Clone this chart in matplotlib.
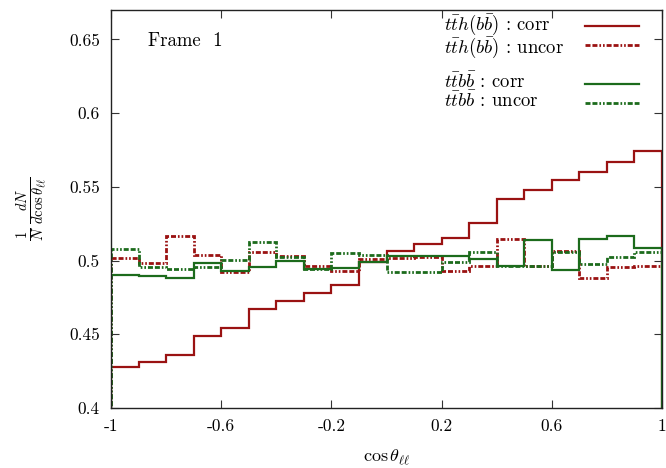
import numpy as np
import matplotlib
matplotlib.use("Agg")
import matplotlib.pyplot as plt

plt.rcParams['font.family'] = ['cmr10', 'DejaVu Serif']
plt.rcParams['mathtext.fontset'] = 'cm'
plt.rcParams['axes.formatter.use_mathtext'] = True

edges = np.linspace(-1, 1, 21)

tth_corr = [0.4278, 0.4311, 0.4357, 0.4488, 0.4544, 0.4673, 0.4729, 0.4779, 0.4835, 0.4991,
            0.5066, 0.5113, 0.5154, 0.5252, 0.5418, 0.5479, 0.5549, 0.5598, 0.5666, 0.5743]
tth_uncor = [0.5018, 0.4984, 0.5170, 0.5039, 0.4926, 0.5057, 0.5034, 0.4966, 0.4932, 0.5012,
             0.5016, 0.5027, 0.4932, 0.4966, 0.5147, 0.4960, 0.5068, 0.4883, 0.4955, 0.4966]
ttbb_corr = [0.4905, 0.4894, 0.4881, 0.4984, 0.4932, 0.4959, 0.5000, 0.4944, 0.4948, 0.4993,
             0.5034, 0.5034, 0.5034, 0.5011, 0.4966, 0.5142, 0.4937, 0.5147, 0.5170, 0.5086]
ttbb_uncor = [0.5079, 0.4955, 0.4944, 0.4955, 0.5002, 0.5124, 0.5023, 0.4944, 0.5050, 0.5041,
              0.4926, 0.4926, 0.4993, 0.5057, 0.4966, 0.4966, 0.5060, 0.4978, 0.5023, 0.5057]

labels = [r'$t\bar{t}h(b\bar{b})$ : corr', r'$t\bar{t}h(b\bar{b})$ : uncor',
          r'$t\bar{t}b\bar{b}$ : corr', r'$t\bar{t}b\bar{b}$ : uncor']

xticks = [-1, -0.6, -0.2, 0.2, 0.6, 1]
xticklabels = ['-1', '-0.6', '-0.2', '0.2', '0.6', '1']
yticks = [0.4, 0.45, 0.5, 0.55, 0.6, 0.65]
yticklabels = ['0.4', '0.45', '0.5', '0.55', '0.6', '0.65']

red = '#9a1212'
green = '#1c6b1c'
dd = (0, (1.8, 0.7, 1.8, 0.7, 0.6, 0.7, 0.6, 0.7))
solid_lw = 1.6
dash_lw = 2.0

fig = plt.figure(figsize=(6.66, 4.68), dpi=100)
ax = fig.add_axes([0.1667, 0.1282, 0.8273, 0.8504])

styles = [dict(color=red, lw=solid_lw, linestyle='-'),
          dict(color=red, lw=dash_lw, linestyle=dd),
          dict(color=green, lw=solid_lw, linestyle='-'),
          dict(color=green, lw=dash_lw, linestyle=dd)]
series = [tth_corr, tth_uncor, ttbb_corr, ttbb_uncor]

for vals, st in zip(series, styles):
    ax.stairs(vals, edges, baseline=0, **st)

ax.set_xlim(-1, 1)
ax.set_ylim(0.4, 0.67)
ax.set_xticks(xticks)
ax.set_xticklabels(xticklabels)
ax.set_yticks(yticks)
ax.set_yticklabels(yticklabels)
ax.tick_params(direction='in', length=6, width=0.8, top=True, right=True,
               labelsize=12.5, pad=8, color='#333333')
for s in ax.spines.values():
    s.set_linewidth(1.0)
    s.set_color('#222222')

ax.set_xlabel(r'$\cos\theta_{\ell\ell}$', fontsize=13, labelpad=9)
ax.set_ylabel(r'$\frac{1}{N}\,\frac{dN}{d\cos\theta_{\ell\ell}}$', fontsize=15, labelpad=14)

ax.text(0.068, 0.922, 'Frame  1', transform=ax.transAxes, fontsize=13.5, va='center', ha='left')

# legend: two text blocks (left-aligned) and sample lines to the right
text_x = 0.6045
block_y = [0.891, 0.759]   # baseline of the lower line of each block
for k, by in enumerate(block_y):
    ax.text(text_x, by, labels[2 * k] + '\n' + labels[2 * k + 1], transform=ax.transAxes,
            fontsize=13.5, ha='left', va='baseline', linespacing=0.95)
line_y = [0.9605, 0.913, 0.8143, 0.7666]
for ly, st in zip(line_y, styles):
    ax.plot([0.861, 0.959], [ly, ly], transform=ax.transAxes, clip_on=False, **st)

fig.savefig('out.png', dpi=100)
